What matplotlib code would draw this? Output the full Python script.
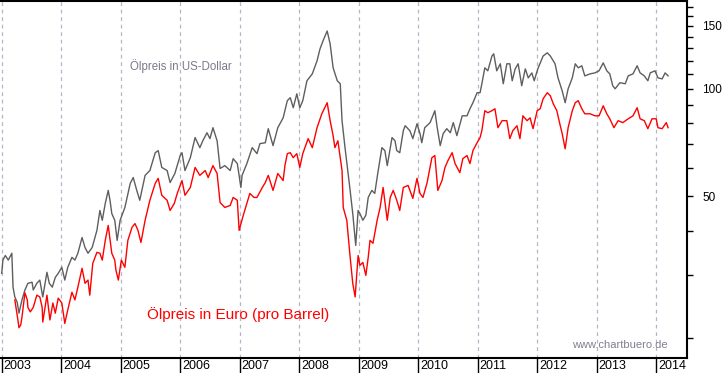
import matplotlib
matplotlib.use("Agg")
import matplotlib.pyplot as plt
from matplotlib import ticker, transforms

plt.rcParams['font.family'] = ['Liberation Sans', 'DejaVu Sans']

# Brent in US-Dollar (Jahr als Dezimalzahl, Preis)
usd_t = [2003.00, 2003.02, 2003.06, 2003.11, 2003.17, 2003.19, 2003.22, 2003.26, 2003.29, 2003.34,
         2003.39, 2003.44, 2003.51, 2003.53, 2003.59, 2003.64, 2003.69, 2003.76, 2003.80, 2003.85,
         2003.90, 2003.95, 2004.01, 2004.06, 2004.11, 2004.18, 2004.23, 2004.28, 2004.35, 2004.40,
         2004.45, 2004.52, 2004.60, 2004.65, 2004.69, 2004.74, 2004.79, 2004.82, 2004.85, 2004.90,
         2004.94, 2004.99, 2005.07, 2005.16, 2005.21, 2005.27, 2005.32, 2005.41, 2005.49, 2005.58,
         2005.63, 2005.69, 2005.78, 2005.83, 2005.91, 2006.00, 2006.03, 2006.08, 2006.17, 2006.25,
         2006.33, 2006.38, 2006.45, 2006.50, 2006.55, 2006.62, 2006.67, 2006.75, 2006.84, 2006.89,
         2006.96, 2007.02, 2007.04, 2007.12, 2007.21, 2007.29, 2007.34, 2007.43, 2007.48, 2007.56,
         2007.64, 2007.73, 2007.80, 2007.85, 2007.90, 2007.96, 2008.01, 2008.06, 2008.13, 2008.22,
         2008.30, 2008.35, 2008.40, 2008.47, 2008.52, 2008.57, 2008.64, 2008.69, 2008.72, 2008.77,
         2008.85, 2008.90, 2008.95, 2008.99, 2009.02, 2009.07, 2009.12, 2009.16, 2009.22, 2009.27,
         2009.32, 2009.39, 2009.44, 2009.48, 2009.56, 2009.61, 2009.64, 2009.69, 2009.75, 2009.78,
         2009.86, 2009.91, 2009.98, 2010.03, 2010.06, 2010.11, 2010.20, 2010.28, 2010.32, 2010.37,
         2010.42, 2010.48, 2010.54, 2010.59, 2010.65, 2010.74, 2010.82, 2010.87, 2010.92, 2010.99,
         2011.04, 2011.07, 2011.12, 2011.17, 2011.24, 2011.27, 2011.32, 2011.38, 2011.43, 2011.49,
         2011.54, 2011.58, 2011.63, 2011.68, 2011.74, 2011.80, 2011.85, 2011.91, 2011.95, 2012.01,
         2012.10, 2012.17, 2012.22, 2012.30, 2012.35, 2012.42, 2012.47, 2012.52, 2012.59, 2012.64,
         2012.69, 2012.75, 2012.80, 2012.89, 2012.97, 2013.04, 2013.11, 2013.17, 2013.22, 2013.27,
         2013.31, 2013.39, 2013.48, 2013.53, 2013.61, 2013.68, 2013.73, 2013.80, 2013.86, 2013.90,
         2013.98, 2014.03, 2014.10, 2014.15, 2014.20]
usd_price = [30.4, 33.1, 34.1, 33.1, 34.6, 27.8, 26.1, 25.2, 23.5, 25.6,
             27.3, 28.5, 28.7, 27.3, 28.5, 29.1, 26.1, 30.6, 28.5, 27.8,
             29.6, 30.4, 31.6, 29.1, 31.6, 33.7, 33.1, 34.6, 38.3, 35.9,
             34.6, 35.9, 40.1, 45.6, 42.8, 47.7, 51.9, 48.7, 44.7, 42.8,
             37.6, 42.8, 46.5, 54.3, 56.4, 51.9, 48.7, 57.2, 59.0, 66.2,
             67.1, 60.2, 59.0, 54.6, 57.9, 65.0, 66.2, 59.0, 64.1, 73.0,
             68.4, 71.5, 75.3, 72.5, 77.8, 71.5, 59.8, 60.9, 59.0, 63.7,
             61.7, 52.9, 57.2, 61.7, 68.4, 65.8, 70.2, 70.6, 77.3, 69.3,
             77.8, 82.9, 92.6, 94.4, 88.5, 96.8, 88.5, 92.6, 105.3, 110.1,
             119.8, 129.4, 136.2, 145.2, 133.6, 114.5, 105.3, 103.3, 81.4, 68.4,
             52.9, 44.7, 36.4, 45.6, 44.7, 42.8, 44.2, 49.6, 51.9, 50.9,
             57.9, 68.4, 67.1, 60.9, 73.0, 71.5, 67.1, 66.2, 76.3, 78.8,
             76.3, 72.5, 79.8, 74.9, 70.6, 77.8, 80.4, 86.8, 77.8, 69.3,
             74.9, 77.3, 75.3, 80.4, 73.9, 84.0, 84.0, 87.9, 91.4, 97.5,
             97.5, 103.3, 114.5, 112.3, 123.6, 125.3, 112.3, 117.5, 103.3, 117.5,
             117.5, 105.3, 113.7, 117.5, 102.0, 113.7, 107.3, 110.8, 105.3, 113.7,
             123.6, 126.1, 123.6, 117.5, 107.3, 98.7, 91.4, 100.0, 107.3, 117.5,
             114.5, 116.0, 108.7, 110.1, 110.8, 112.3, 118.2, 112.3, 110.1, 102.0,
             100.0, 104.0, 103.3, 108.7, 110.1, 116.0, 110.8, 108.7, 105.3, 110.8,
             112.3, 107.3, 106.6, 110.8, 108.7]

# Brent in Euro
eur_t = [2003.22, 2003.26, 2003.29, 2003.32, 2003.34, 2003.39, 2003.43, 2003.44, 2003.48, 2003.53,
         2003.59, 2003.64, 2003.68, 2003.69, 2003.76, 2003.81, 2003.86, 2003.90, 2003.95, 2004.01,
         2004.06, 2004.11, 2004.18, 2004.23, 2004.28, 2004.35, 2004.40, 2004.45, 2004.48, 2004.53,
         2004.60, 2004.65, 2004.69, 2004.74, 2004.79, 2004.85, 2004.90, 2004.92, 2004.96, 2005.01,
         2005.07, 2005.12, 2005.19, 2005.24, 2005.29, 2005.34, 2005.41, 2005.49, 2005.58, 2005.63,
         2005.69, 2005.78, 2005.83, 2005.90, 2005.95, 2006.03, 2006.08, 2006.17, 2006.25, 2006.33,
         2006.42, 2006.47, 2006.55, 2006.62, 2006.67, 2006.75, 2006.84, 2006.89, 2006.96, 2006.99,
         2007.06, 2007.11, 2007.17, 2007.24, 2007.29, 2007.38, 2007.43, 2007.48, 2007.56, 2007.64,
         2007.73, 2007.76, 2007.80, 2007.85, 2007.90, 2007.96, 2008.01, 2008.06, 2008.15, 2008.22,
         2008.30, 2008.38, 2008.47, 2008.52, 2008.57, 2008.60, 2008.65, 2008.72, 2008.74, 2008.80,
         2008.85, 2008.90, 2008.94, 2008.99, 2009.02, 2009.07, 2009.12, 2009.16, 2009.19, 2009.24,
         2009.31, 2009.36, 2009.41, 2009.48, 2009.53, 2009.58, 2009.64, 2009.69, 2009.75, 2009.83,
         2009.91, 2009.98, 2010.03, 2010.08, 2010.15, 2010.23, 2010.28, 2010.33, 2010.40, 2010.45,
         2010.50, 2010.57, 2010.62, 2010.70, 2010.75, 2010.82, 2010.87, 2010.92, 2010.99, 2011.04,
         2011.07, 2011.12, 2011.17, 2011.24, 2011.29, 2011.34, 2011.41, 2011.49, 2011.54, 2011.59,
         2011.66, 2011.71, 2011.76, 2011.83, 2011.88, 2011.93, 2012.00, 2012.05, 2012.10, 2012.17,
         2012.22, 2012.27, 2012.33, 2012.38, 2012.42, 2012.47, 2012.52, 2012.59, 2012.64, 2012.69,
         2012.75, 2012.80, 2012.89, 2012.97, 2013.04, 2013.11, 2013.17, 2013.22, 2013.29, 2013.36,
         2013.44, 2013.53, 2013.61, 2013.68, 2013.73, 2013.80, 2013.86, 2013.93, 2014.00, 2014.03,
         2014.10, 2014.17, 2014.20]
eur_price = [25.6, 23.2, 21.4, 21.8, 22.9, 26.8, 25.6, 24.4, 23.7, 24.4,
             26.4, 26.1, 24.4, 22.2, 26.4, 22.5, 25.1, 23.5, 25.9, 25.1,
             22.0, 24.0, 26.9, 25.6, 27.8, 31.4, 28.5, 29.1, 26.4, 32.4,
             34.8, 34.6, 33.1, 37.6, 41.4, 34.6, 33.1, 31.0, 29.1, 33.1,
             31.6, 37.6, 40.9, 41.9, 40.1, 37.1, 42.8, 48.7, 54.3, 56.1,
             50.3, 48.7, 45.6, 47.7, 50.9, 55.3, 50.3, 52.9, 60.2, 57.2,
             59.0, 56.4, 60.9, 57.9, 48.0, 46.5, 47.1, 49.6, 48.7, 40.1,
             44.2, 47.1, 50.9, 49.6, 49.6, 52.9, 54.6, 57.2, 51.9, 57.9,
             55.3, 60.9, 65.8, 66.2, 64.1, 65.8, 60.2, 65.8, 72.5, 68.4,
             77.8, 85.1, 91.4, 81.4, 73.9, 68.4, 71.5, 59.0, 46.5, 42.8,
             34.6, 28.5, 26.1, 34.1, 32.0, 32.6, 30.0, 33.7, 37.6, 36.9,
             42.8, 46.5, 52.9, 42.8, 49.6, 51.9, 48.7, 45.6, 52.9, 53.6,
             49.3, 56.1, 50.9, 49.6, 54.6, 64.1, 65.0, 51.9, 55.3, 60.2,
             62.9, 66.2, 61.7, 58.2, 63.7, 65.0, 61.7, 67.1, 70.6, 73.0,
             76.3, 86.8, 85.7, 86.8, 87.9, 77.8, 81.4, 81.4, 72.5, 76.3,
             78.8, 72.5, 84.0, 81.4, 82.9, 77.3, 86.8, 87.9, 93.8, 97.5,
             95.6, 90.8, 86.8, 79.8, 74.9, 67.9, 77.8, 86.8, 91.4, 92.6,
             87.9, 85.1, 85.1, 84.0, 84.0, 89.6, 85.1, 82.4, 77.8, 81.4,
             80.4, 82.4, 84.0, 88.5, 82.4, 81.4, 77.3, 82.4, 82.4, 77.8,
             77.3, 80.4, 77.8]

years = list(range(2003, 2015))
y_major = [50, 100, 150]
y_minor = [20, 30, 40, 60, 70, 80, 90, 110, 120, 130, 140, 160, 170]

fig = plt.figure(figsize=(7.23, 3.73), dpi=100)
ax = fig.add_axes([0.0, 15 / 373, 687 / 723, 357 / 373])

# Gitterlinien an jedem Jahresanfang
for yr in years:
    ax.axvline(yr, color='#b8b4c8', linestyle=(0, (3, 3)), linewidth=0.9, zorder=1)

ax.plot(eur_t, eur_price, color='#ff0000', linewidth=1.0, zorder=3)
ax.plot(usd_t, usd_price, color='#5e5e5e', linewidth=1.0, zorder=2)

ax.set_yscale('log')
ax.set_xlim(2002.971, 2014.518)
ax.set_ylim(17.6, 176.2)

# Y-Achse rechts
ax.yaxis.tick_right()
ax.yaxis.set_major_locator(ticker.FixedLocator(y_major))
ax.yaxis.set_major_formatter(ticker.FixedFormatter([str(v) for v in y_major]))
ax.yaxis.set_minor_locator(ticker.FixedLocator(y_minor))
ax.yaxis.set_minor_formatter(ticker.NullFormatter())
ax.tick_params(axis='y', which='both', direction='out', length=4, width=1,
               pad=7, labelsize=8.5, colors='black')

# X-Achse: Striche nach unten, Beschriftung rechts daneben
ax.set_xticks(years)
ax.set_xticklabels([])
ax.tick_params(axis='x', direction='out', length=11, width=1)
lbl_tr = transforms.offset_copy(ax.get_xaxis_transform(), fig=fig, x=2, y=-2, units='dots')
for yr in years:
    ax.text(yr, 0, str(yr), transform=lbl_tr, ha='left', va='top', fontsize=9, clip_on=False)

ax.spines['left'].set_visible(False)
for side in ['top', 'right', 'bottom']:
    ax.spines[side].set_linewidth(1.5)
    ax.spines[side].set_color('black')

ax.text(0.189, 0.818, 'Ölpreis in US-Dollar', transform=ax.transAxes,
        color='#7a7a8a', fontsize=8.3, va='center', ha='left')
ax.text(0.214, 0.123, 'Ölpreis in Euro (pro Barrel)', transform=ax.transAxes,
        color='#ff0000', fontsize=11, va='center', ha='left')
ax.text(0.833, 0.036, 'www.chartbuero.de', transform=ax.transAxes,
        color='#808090', fontsize=8, va='center', ha='left')

fig.savefig('out.png', dpi=100)
